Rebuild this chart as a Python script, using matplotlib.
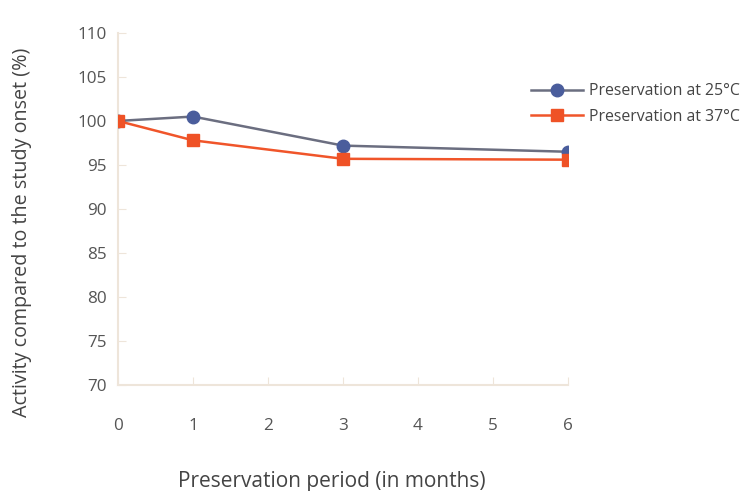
import matplotlib.pyplot as plt

# Data
months = [0, 1, 3, 6]
temp25 = [100.0, 100.5, 97.2, 96.5]
temp37 = [100.0, 97.8, 95.7, 95.6]
x_ticks = [0, 1, 2, 3, 4, 5, 6]
y_ticks = [70, 75, 80, 85, 90, 95, 100, 105, 110]

plt.rcParams['font.family'] = ['Open Sans', 'DejaVu Sans']

fig = plt.figure(figsize=(7.45, 4.91), dpi=100)
ax = fig.add_axes([0.1584, 0.2159, 0.604, 0.717])

ax.plot(months, temp25, color='#6b6e80', lw=1.8, marker='o', ms=9,
        mfc='#4a5d9c', mec='#4a5d9c', label='Preservation at 25°C', zorder=3)
ax.plot(months, temp37, color='#f0552a', lw=1.8, marker='s', ms=9,
        mfc='#ef5226', mec='#ef5226', label='Preservation at 37°C', zorder=3)

ax.set_xlim(0, 6)
ax.set_ylim(70, 110)
ax.set_xticks(x_ticks)
ax.set_yticks(y_ticks)

spine_col = '#eee5da'
for s in ['top', 'right']:
    ax.spines[s].set_visible(False)
for s in ['left', 'bottom']:
    ax.spines[s].set_color(spine_col)
    ax.spines[s].set_linewidth(1.5)

ax.tick_params(axis='x', direction='in', length=6, color=spine_col, pad=24,
               labelsize=12.3, labelcolor='#555555')
ax.tick_params(axis='y', direction='in', length=6, color=spine_col, pad=8,
               labelsize=12.3, labelcolor='#555555')

ax.set_xlabel('Preservation period (in months)', fontsize=15, color='#444444')
ax.set_ylabel('Activity compared to the study onset (%)', fontsize=14.2, color='#444444')
ax.xaxis.set_label_coords(0.476, -0.243)
ax.yaxis.set_label_coords(-0.191, 0.435)

ax.legend(loc='center left', bbox_to_anchor=(0.918, 0.798), frameon=False,
          borderpad=0, borderaxespad=0,
          fontsize=11.4, labelcolor='#444444', handlelength=3.3,
          handletextpad=0.35, labelspacing=0.6)

fig.savefig('out.png', dpi=100)
